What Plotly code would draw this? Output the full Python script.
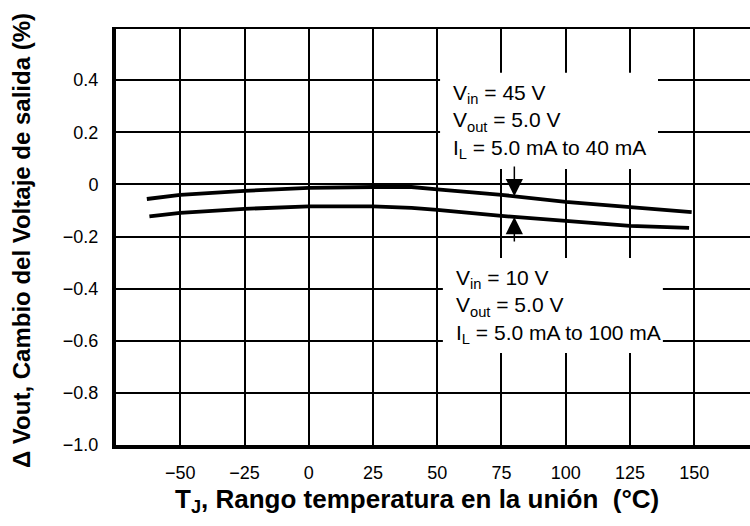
import numpy as np
import plotly.graph_objects as go

# Output voltage change vs. junction temperature (two load conditions)
temp_45v = [-63, -50, -25, 0, 25, 40, 50, 75, 100, 125, 149]
dvout_45v = [-0.056, -0.040, -0.025, -0.013, -0.010, -0.010, -0.019, -0.040, -0.067, -0.086, -0.106]

temp_10v = [-62, -50, -25, 0, 25, 40, 50, 75, 100, 125, 148]
dvout_10v = [-0.123, -0.109, -0.094, -0.084, -0.084, -0.090, -0.098, -0.121, -0.140, -0.159, -0.167]

x_ticks = [-50, -25, 0, 25, 50, 75, 100, 125, 150]
x_tick_text = ["\u221250", "\u221225", "0", "25", "50", "75", "100", "125", "150"]
# the top gridline (0.6) closes the frame and carries no label
y_ticks = [-1.0, -0.8, -0.6, -0.4, -0.2, 0.0, 0.2, 0.4, 0.6]
y_tick_text = ["\u22121.0", "\u22120.8", "\u22120.6", "\u22120.4", "\u22120.2", "0", "0.2", "0.4", ""]

x_range = [-75, 171.7]
y_range = [-1.0, 0.604]

label_45v = "V<sub>in</sub> = 45 V<br>V<sub>out</sub> = 5.0 V<br>I<sub>L</sub> = 5.0 mA to 40 mA"
label_10v = "V<sub>in</sub> = 10 V<br>V<sub>out</sub> = 5.0 V<br>I<sub>L</sub> = 5.0 mA to 100 mA"
x_title = "T<sub>J</sub>, Rango temperatura en la unión  (°C)"
y_title = "\u0394 Vout, Cambio del Voltaje de salida (%)"

arrow_temp = 80
FONT = "Arial, 'Liberation Sans', sans-serif"

fig = go.Figure()
fig.add_trace(go.Scatter(x=temp_45v, y=dvout_45v, mode="lines",
                         line=dict(color="black", width=3.8), showlegend=False))
fig.add_trace(go.Scatter(x=temp_10v, y=dvout_10v, mode="lines",
                         line=dict(color="black", width=3.8), showlegend=False))

# white panels behind the condition labels (they hide the grid)
fig.add_shape(type="rect", xref="x", yref="y", x0=51.1, x1=135.9, y0=0.059, y1=0.428,
              fillcolor="white", line=dict(width=0), layer="above")
fig.add_shape(type="rect", xref="x", yref="y", x0=52.2, x1=137.8, y0=-0.647, y1=-0.282,
              fillcolor="white", line=dict(width=0), layer="above")

fig.add_annotation(text=label_45v, x=55.3, y=0.240, xref="x", yref="y",
                   xanchor="left", yanchor="middle", align="left", showarrow=False,
                   font=dict(family=FONT, size=21, color="black"))
fig.add_annotation(text=label_10v, x=56.5, y=-0.470, xref="x", yref="y",
                   xanchor="left", yanchor="middle", align="left", showarrow=False,
                   font=dict(family=FONT, size=21, color="black"))

# pointer arrows onto each curve
tip_45v = float(np.interp(arrow_temp, temp_45v, dvout_45v))
tip_10v = float(np.interp(arrow_temp, temp_10v, dvout_10v))
for tip, tail in ((tip_45v, 0.074), (tip_10v, -0.225)):
    fig.add_annotation(x=arrow_temp, y=tip, ax=arrow_temp, ay=tail,
                       xref="x", yref="y", axref="x", ayref="y", text="",
                       showarrow=True, arrowhead=2, arrowsize=2.3, arrowwidth=1.5,
                       arrowcolor="black")

fig.add_annotation(text=x_title, x=0.475, y=-0.132, xref="paper", yref="paper",
                   xanchor="center", yanchor="middle", showarrow=False,
                   font=dict(family=FONT, size=26, color="black", weight="bold"))
fig.add_annotation(text=y_title, x=-0.150, y=0.49, xref="paper", yref="paper",
                   xanchor="center", yanchor="middle", showarrow=False, textangle=-90,
                   font=dict(family=FONT, size=24, color="black", weight="bold"))

fig.update_layout(
    width=750, height=526,
    margin=dict(l=116, r=0, t=27, b=81),
    plot_bgcolor="white", paper_bgcolor="white",
    font=dict(family=FONT, size=16, color="black"),
    xaxis=dict(range=x_range, tickvals=x_ticks, ticktext=x_tick_text,
               showgrid=True, gridcolor="black", gridwidth=1.8,
               showline=True, linecolor="black", linewidth=4,
               ticks="", zeroline=False, ticklabelstandoff=8,
               tickfont=dict(family=FONT, size=18)),
    yaxis=dict(range=y_range, tickvals=y_ticks, ticktext=y_tick_text,
               showgrid=True, gridcolor="black", gridwidth=1.8,
               showline=True, linecolor="black", linewidth=4,
               ticks="", zeroline=False, ticklabelstandoff=10,
               tickfont=dict(family=FONT, size=18)),
)

fig.write_html("out.html")
